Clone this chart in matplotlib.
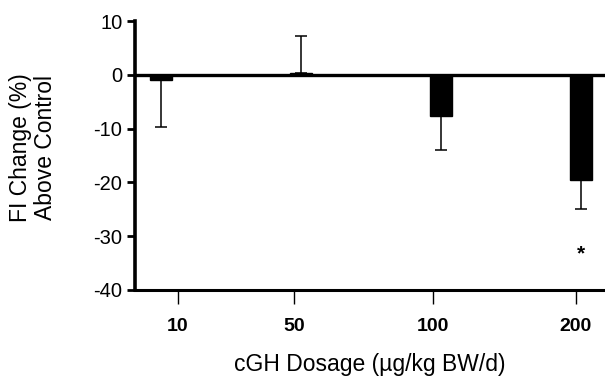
import matplotlib
matplotlib.use("Agg")
import matplotlib.pyplot as plt
import numpy as np

plt.rcParams["font.family"] = ["Liberation Sans", "DejaVu Sans"]

DOSES = ["10", "50", "100", "200"]
FI_CHANGE = [-0.9, 0.4, -7.6, -19.6]
SEM = [8.8, 6.9, 6.4, 5.3]
SIGNIFICANT = [False, False, False, True]
STAR_LEVEL = -33.3

fig = plt.figure(figsize=(6.05, 3.85), dpi=100)
ax = fig.add_axes([0.223, 0.247, 0.777, 0.698])

x = np.arange(len(DOSES))
vals = np.array(FI_CHANGE)
err = np.array(SEM)
# error bars drawn only away from zero
lower = np.where(vals < 0, err, 0)
upper = np.where(vals >= 0, err, 0)

ax.bar(x, vals, width=0.16, color="black", edgecolor="black", zorder=3)
ax.errorbar(x, vals, yerr=[lower, upper], fmt="none", ecolor="black",
            elinewidth=1.1, capsize=4.3, capthick=1.1, zorder=2)
ax.axhline(0, color="black", lw=2.4, zorder=4)

for xi, sig in zip(x, SIGNIFICANT):
    if sig:
        ax.text(xi, STAR_LEVEL, "*", ha="center", va="center",
                fontsize=15, fontweight="bold")

ax.set_xlim(-0.186, 3.17)
ax.set_ylim(-40, 10)
ax.set_yticks([10, 0, -10, -20, -30, -40])
ax.set_yticklabels(["10", "0", "-10", "-20", "-30", "-40"], fontsize=14.5)

# tick marks sit slightly off the bar centres in the original figure
tick_offsets = [0.12, -0.05, -0.06, -0.04]
ax.set_xticks(x + np.array(tick_offsets))
ax.set_xticklabels(DOSES, fontsize=14, fontweight="bold")

ax.tick_params(axis="x", direction="out", length=10, width=1.0, pad=10)
ax.tick_params(axis="y", direction="out", length=6, width=2.0, pad=3)

for side in ["top", "right"]:
    ax.spines[side].set_visible(False)
ax.spines["left"].set_linewidth(2.6)
ax.spines["bottom"].set_linewidth(2.2)

ax.set_xlabel("cGH Dosage (\u00b5g/kg BW/d)", fontsize=16.5)
ax.xaxis.set_label_coords(0.5, -0.235)
ax.set_ylabel("FI Change (%)\nAbove Control", fontsize=16.5, linespacing=1.1)
ax.yaxis.set_label_coords(-0.166, 0.53)

fig.savefig("out.png", dpi=100)
